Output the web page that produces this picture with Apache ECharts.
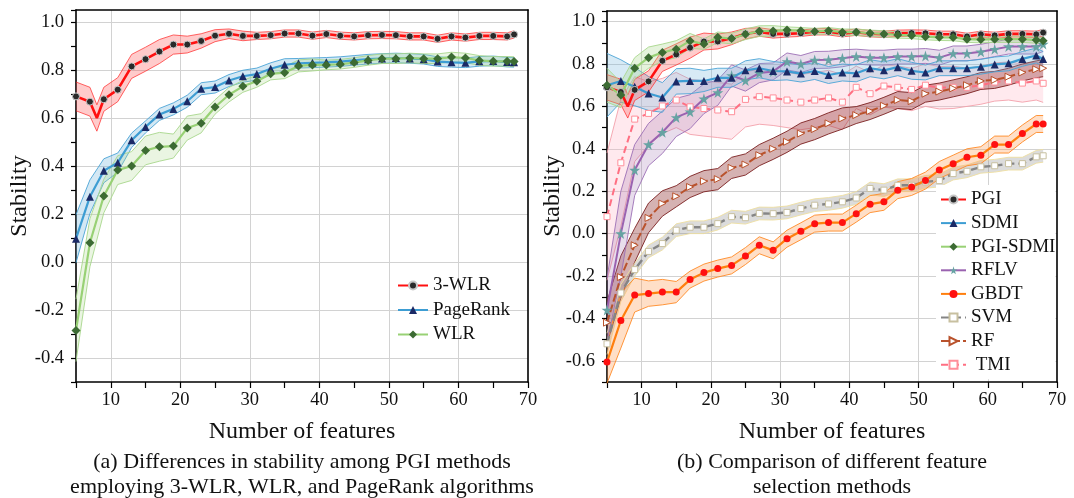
<!DOCTYPE html>
<html><head><meta charset="utf-8">
<script src="https://cdn.jsdelivr.net/npm/echarts@6/dist/echarts.min.js"></script>
<style>html,body{margin:0;padding:0;background:#fff}#c{width:1074px;height:498px}</style>
</head><body><div id="c"></div>
<script>
// ---------- data ----------
const X = [5,7,9,11,13,15,17,19,21,23,25,27,29,31,33,35,37,39,41,43,45,47,49,51,53,55,57,59,61,63,65,67,68];
const X3 = [5,7,8,9,11,13,15,17,19,21,23,25,27,29,31,33,35,37,39,41,43,45,47,49,51,53,55,57,59,61,63,65,67,68];

// panel (a)
const wlr3Mean = [0.69,0.668,0.60,0.678,0.718,0.815,0.845,0.877,0.906,0.906,0.921,0.943,0.951,0.942,0.942,0.945,0.952,0.952,0.943,0.95,0.943,0.94,0.945,0.946,0.945,0.94,0.94,0.93,0.94,0.935,0.942,0.942,0.94,0.948];
const wlr3Hw   = [0.06,0.06,0.055,0.05,0.05,0.05,0.05,0.05,0.04,0.035,0.03,0.025,0.02,0.02,0.015,0.015,0.015,0.015,0.015,0.015,0.015,0.015,0.015,0.015,0.015,0.015,0.015,0.015,0.015,0.015,0.015,0.015,0.015,0.015];
const pageRankMean = [0.097,0.272,0.38,0.414,0.507,0.563,0.615,0.638,0.67,0.722,0.729,0.756,0.774,0.783,0.805,0.822,0.828,0.83,0.832,0.835,0.84,0.845,0.848,0.85,0.848,0.845,0.835,0.832,0.83,0.836,0.838,0.833,0.832];
const pageRankHw   = [0.1,0.07,0.05,0.04,0.03,0.025,0.025,0.025,0.025,0.025,0.025,0.025,0.025,0.025,0.025,0.025,0.02,0.02,0.02,0.02,0.02,0.02,0.02,0.02,0.02,0.02,0.02,0.02,0.02,0.02,0.02,0.02,0.02];
const wlrMean = [-0.285,0.08,0.275,0.383,0.40,0.465,0.48,0.483,0.558,0.578,0.646,0.697,0.732,0.753,0.784,0.789,0.817,0.821,0.821,0.824,0.831,0.84,0.847,0.847,0.85,0.847,0.847,0.854,0.85,0.84,0.836,0.836,0.835];
const wlrHw   = [0.13,0.1,0.07,0.06,0.06,0.06,0.06,0.05,0.05,0.04,0.03,0.03,0.025,0.025,0.025,0.025,0.025,0.025,0.02,0.02,0.02,0.02,0.02,0.02,0.02,0.02,0.02,0.02,0.02,0.02,0.02,0.02,0.02];

// panel (b)
const pgiMean = wlr3Mean.slice();
const pgiHw   = wlr3Hw.slice();
const sdmiMean = [0.70,0.72,0.693,0.661,0.642,0.718,0.72,0.72,0.735,0.735,0.77,0.78,0.767,0.765,0.755,0.767,0.748,0.76,0.756,0.78,0.77,0.785,0.768,0.76,0.78,0.78,0.78,0.787,0.798,0.803,0.824,0.84,0.824];
const sdmiHw   = [0.15,0.1,0.09,0.08,0.07,0.06,0.06,0.05,0.045,0.045,0.045,0.045,0.045,0.04,0.04,0.04,0.04,0.04,0.04,0.04,0.04,0.04,0.04,0.035,0.035,0.035,0.035,0.035,0.035,0.035,0.035,0.035,0.035];
const pgiSdmiMean = [0.70,0.654,0.78,0.83,0.854,0.87,0.909,0.894,0.926,0.92,0.94,0.955,0.956,0.96,0.957,0.953,0.957,0.95,0.95,0.945,0.942,0.937,0.935,0.929,0.926,0.925,0.917,0.915,0.917,0.917,0.917,0.913,0.91];
const pgiSdmiHw   = [0.08,0.06,0.05,0.05,0.04,0.04,0.035,0.025,0.025,0.025,0.025,0.025,0.025,0.015,0.015,0.015,0.015,0.015,0.015,0.015,0.015,0.015,0.015,0.015,0.015,0.015,0.015,0.015,0.015,0.015,0.015,0.015,0.015];
const rflvMean = [-0.36,0.0,0.30,0.42,0.478,0.548,0.575,0.636,0.665,0.746,0.722,0.757,0.765,0.812,0.80,0.819,0.82,0.827,0.835,0.83,0.83,0.835,0.835,0.838,0.83,0.85,0.85,0.858,0.87,0.882,0.882,0.882,0.894];
const rflvHw   = [0.15,0.2,0.12,0.1,0.1,0.09,0.08,0.07,0.06,0.05,0.05,0.045,0.04,0.04,0.04,0.04,0.04,0.04,0.035,0.035,0.035,0.035,0.035,0.035,0.035,0.035,0.035,0.035,0.035,0.035,0.035,0.035,0.035];
const gbdtMean = [-0.606,-0.41,-0.29,-0.283,-0.276,-0.276,-0.217,-0.184,-0.165,-0.15,-0.106,-0.055,-0.079,-0.024,0.011,0.047,0.052,0.052,0.094,0.139,0.15,0.205,0.22,0.25,0.30,0.33,0.36,0.37,0.42,0.42,0.472,0.517,0.517];
const gbdtHw   = [0.1,0.13,0.08,0.06,0.06,0.05,0.04,0.04,0.04,0.04,0.04,0.04,0.04,0.04,0.04,0.04,0.04,0.04,0.04,0.04,0.04,0.04,0.04,0.04,0.04,0.04,0.04,0.04,0.04,0.04,0.04,0.04,0.04];
const svmMean = [-0.52,-0.28,-0.17,-0.084,-0.047,0.016,0.03,0.03,0.047,0.08,0.075,0.095,0.094,0.10,0.118,0.134,0.14,0.15,0.168,0.213,0.205,0.228,0.228,0.244,0.25,0.283,0.294,0.315,0.32,0.33,0.33,0.362,0.367];
const svmHw   = [0.05,0.04,0.03,0.03,0.03,0.03,0.03,0.03,0.03,0.03,0.03,0.03,0.03,0.03,0.03,0.03,0.03,0.03,0.03,0.03,0.03,0.03,0.03,0.03,0.03,0.03,0.03,0.03,0.03,0.03,0.03,0.03,0.03];
const rfMean = [-0.42,-0.205,-0.055,0.074,0.142,0.176,0.22,0.247,0.257,0.31,0.326,0.37,0.40,0.433,0.472,0.493,0.52,0.543,0.559,0.578,0.603,0.63,0.625,0.66,0.67,0.685,0.70,0.72,0.725,0.74,0.76,0.775,0.78];
const rfHw   = [0.1,0.1,0.08,0.07,0.06,0.05,0.05,0.05,0.05,0.05,0.05,0.05,0.05,0.05,0.05,0.05,0.05,0.05,0.04,0.04,0.04,0.04,0.04,0.04,0.04,0.04,0.04,0.04,0.04,0.04,0.04,0.04,0.04];
const tmiMean = [0.08,0.334,0.54,0.567,0.602,0.63,0.598,0.59,0.583,0.575,0.633,0.646,0.64,0.63,0.62,0.63,0.64,0.62,0.69,0.66,0.696,0.69,0.68,0.70,0.688,0.69,0.69,0.70,0.715,0.72,0.71,0.72,0.709];
const tmiHw   = [0.3,0.3,0.2,0.15,0.13,0.13,0.13,0.13,0.13,0.13,0.13,0.13,0.13,0.13,0.13,0.13,0.13,0.13,0.1,0.1,0.1,0.1,0.1,0.1,0.1,0.1,0.09,0.09,0.09,0.09,0.09,0.09,0.09];

const xGrid = [10,20,30,40,50,60];
const yGridA = [-0.4,-0.2,0,0.2,0.4,0.6,0.8,1.0];
const yGridB = [-0.6,-0.4,-0.2,0,0.2,0.4,0.6,0.8,1.0];
const legendA = ['3-WLR','PageRank','WLR'];
const legendB = ['PGI','SDMI','PGI-SDMI','RFLV','GBDT','SVM','RF',' TMI'];

// ---------- helpers ----------
const SERIF = '"Liberation Serif","Times New Roman",serif';
const STAR = 'path://M50,0 L61,35 L98,35 L68,57 L79,91 L50,70 L21,91 L32,57 L2,35 L39,35 Z';

function band(name, xs, mid, hw, fill, edge, ai) {
  const data = xs.map((x,i)=>[x, +(mid[i]-hw[i]).toFixed(4), +(mid[i]+hw[i]).toFixed(4)]);
  return {
    type:'custom', name: name + ' band', xAxisIndex: ai, yAxisIndex: ai, z: 1, silent: true,
    data, encode:{x:0, y:[1,2]},
    renderItem(params, api) {
      if (params.dataIndex !== 0) return null;
      const up = data.map(d=>api.coord([d[0], d[2]]));
      const lo = data.map(d=>api.coord([d[0], d[1]]));
      return {type:'group', children:[
        {type:'polygon', shape:{points: up.concat(lo.slice().reverse())}, style:{fill: fill}},
        {type:'polyline', shape:{points: up}, style:{stroke: edge, lineWidth: 0.9, fill: null}},
        {type:'polyline', shape:{points: lo}, style:{stroke: edge, lineWidth: 0.9, fill: null}}
      ]};
    }
  };
}
function line(name, xs, mid, ai, o) {
  const last = xs.length - 1;
  return {
    type:'line', name, xAxisIndex: ai, yAxisIndex: ai, z: 3,
    data: xs.map((x,i)=> (x % 2 === 1 || i === last) ? [x, mid[i]] : {value:[x, mid[i]], symbol:'none'}),
    symbol: o.symbol, symbolSize: o.size, symbolRotate: o.rotate || 0, showAllSymbol: true,
    lineStyle: {color: o.color, width: o.width || 2, type: o.dash || 'solid'},
    itemStyle: {color: o.fill, borderColor: o.border || o.fill, borderWidth: o.bw || 0},
    color: o.color
  };
}
function axesFor(gi, yMin, yMax, yGrid) {
  const xA = {type:'value', gridIndex: gi, position:'bottom', min:5, max:70, interval:5,
    axisLine:{show:true, onZero:false, lineStyle:{color:'#000', width:1.6}},
    axisTick:{show:true, length:6, lineStyle:{color:'#000', width:1.2}},
    axisLabel:{show:true, margin:9, color:'#111', fontFamily: SERIF, fontSize:18.5,
      formatter: v => (Math.round(v) % 10 === 0 ? String(Math.round(v)) : '')},
    splitLine:{show:false}};
  const xB = {type:'value', gridIndex: gi, position:'top', min:5, max:70,
    axisLine:{show:true, onZero:false, lineStyle:{color:'#000', width:1.6}},
    axisTick:{show:false, customValues: xGrid},
    axisLabel:{show:false, customValues: xGrid},
    splitLine:{show:true, lineStyle:{color:'#d2d2d2', width:1}}};
  const yA = {type:'value', gridIndex: gi, position:'left', min:yMin, max:yMax, interval:0.1,
    axisLine:{show:true, onZero:false, lineStyle:{color:'#000', width:1.6}},
    axisTick:{show:true, length:5, lineStyle:{color:'#000', width:1.2}},
    axisLabel:{show:true, margin:12, color:'#111', fontFamily: SERIF, fontSize:18.5,
      formatter: v => {const k = Math.round(v*10); return (k % 2 === 0 && v > yMin + 0.01 && v < 1.01) ? (k/10).toFixed(1) : '';}},
    splitLine:{show:false}};
  const yB = {type:'value', gridIndex: gi, position:'right', min:yMin, max:yMax,
    axisLine:{show:true, onZero:false, lineStyle:{color:'#000', width:1.6}},
    axisTick:{show:false, customValues: yGrid},
    axisLabel:{show:false, customValues: yGrid},
    splitLine:{show:true, lineStyle:{color:'#d2d2d2', width:1}}};
  return {x:[xA,xB], y:[yA,yB]};
}

const aA = axesFor(0, -0.5, 1.05, yGridA);
const aB = axesFor(1, -0.7, 1.05, yGridB);

const C = {
  red:  {color:'#ff1010', fill:'#2a2a2a', border:'#c8c8c8', bw:1, symbol:'circle', size:7, width:2.6},
  blue: {color:'#3d9dd3', fill:'#1b2a66', symbol:'triangle', size:8, width:2.2},
  green:{color:'#98d175', fill:'#3c6b33', symbol:'diamond', size:9, width:2.2}
};

const series = [
  band('3-WLR', X3, wlr3Mean, wlr3Hw, 'rgba(255,70,70,0.28)', 'rgba(255,40,40,0.8)', 0),
  band('PageRank', X, pageRankMean, pageRankHw, 'rgba(110,180,220,0.3)', '#4ba4d6', 0),
  band('WLR', X, wlrMean, wlrHw, 'rgba(170,215,140,0.25)', '#a8d78c', 0),
  line('3-WLR', X3, wlr3Mean, 0, C.red),
  line('PageRank', X, pageRankMean, 0, C.blue),
  line('WLR', X, wlrMean, 0, C.green),

  band('TMI', X, tmiMean, tmiHw, 'rgba(255,175,195,0.28)', '#f3a0aa', 2),
  band('RF', X, rfMean, rfHw, 'rgba(135,35,35,0.35)', '#7b1f1f', 2),
  band('SVM', X, svmMean, svmHw, 'rgba(140,140,140,0.3)', '#eedfa0', 2),
  band('GBDT', X, gbdtMean, gbdtHw, 'rgba(255,150,70,0.3)', '#ff8a26', 2),
  band('RFLV', X, rflvMean, rflvHw, 'rgba(150,100,170,0.22)', '#9c6fb6', 2),
  band('SDMI', X, sdmiMean, sdmiHw, 'rgba(110,180,220,0.28)', '#4ba4d6', 2),
  band('PGI', X3, pgiMean, pgiHw, 'rgba(255,70,70,0.28)', 'rgba(255,40,40,0.8)', 2),
  band('PGI-SDMI', X, pgiSdmiMean, pgiSdmiHw, 'rgba(170,215,140,0.3)', '#a8d78c', 2),
  line(' TMI', X, tmiMean, 2, {color:'#ff6f82', fill:'#ffffff', border:'#ff8f9a', bw:1, symbol:'rect', size:6, width:2, dash:[7,4]}),
  line('RF', X, rfMean, 2, {color:'#b9522c', fill:'#ffffff', border:'#b9522c', bw:1, symbol:'triangle', size:7, rotate:-90, width:2, dash:[8,3]}),
  line('SVM', X, svmMean, 2, {color:'#858585', fill:'#ffffff', border:'#c8c0a0', bw:1, symbol:'rect', size:6, width:2.4, dash:[8,4]}),
  line('GBDT', X, gbdtMean, 2, {color:'#ff7f0e', fill:'#ff1010', symbol:'circle', size:7, width:2.2}),
  line('RFLV', X, rflvMean, 2, {color:'#9a62b0', fill:'#67a3a3', symbol:STAR, size:11, width:2}),
  line('SDMI', X, sdmiMean, 2, C.blue),
  line('PGI', X3, pgiMean, 2, C.red),
  line('PGI-SDMI', X, pgiSdmiMean, 2, C.green)
];

const txt = (t, x, y, size, rot) => ({type:'text', x, y, rotation: rot || 0, z: 10,
  style:{text:t, fill:'#111', font: size + 'px ' + SERIF, textAlign:'center', textVerticalAlign:'middle'}});

const option = {
  animation: false,
  backgroundColor: '#fff',
  grid: [
    {left:76, right:546, top:10, bottom:116, containLabel:false},
    {left:607, right:17, top:11, bottom:116, containLabel:false}
  ],
  xAxis: [aA.x[0], aA.x[1], aB.x[0], aB.x[1]],
  yAxis: [aA.y[0], aA.y[1], aB.y[0], aB.y[1]],
  legend: [
    {data: legendA, orient:'vertical', left:392, top:271, itemWidth:30, itemHeight:10, itemGap:5.5,
     textStyle:{fontFamily:SERIF, fontSize:19, color:'#111'}, selectedMode:false},
    {data: legendB, orient:'vertical', left:936, top:185, itemWidth:25, itemHeight:10, itemGap:4.6,
     padding:[5,0,5,4], backgroundColor:'#ffffff',
     textStyle:{fontFamily:SERIF, fontSize:19, color:'#111'}, selectedMode:false}
  ],
  series,
  graphic: [
    txt('Stability', 20, 196, 24, Math.PI/2),
    txt('Stability', 553, 196, 24, Math.PI/2),
    txt('Number of features', 302, 432, 24),
    txt('Number of features', 832, 432, 24),
    txt('(a) Differences in stability among PGI methods', 302, 462, 22),
    txt('employing 3-WLR, WLR, and PageRank algorithms', 302, 487, 22),
    txt('(b) Comparison of different feature', 832, 462, 22),
    txt('selection methods', 832, 487, 22)
  ]
};
const chart = echarts.init(document.getElementById('c'), null, {renderer:'canvas'});
chart.setOption(option);
</script></body></html>
